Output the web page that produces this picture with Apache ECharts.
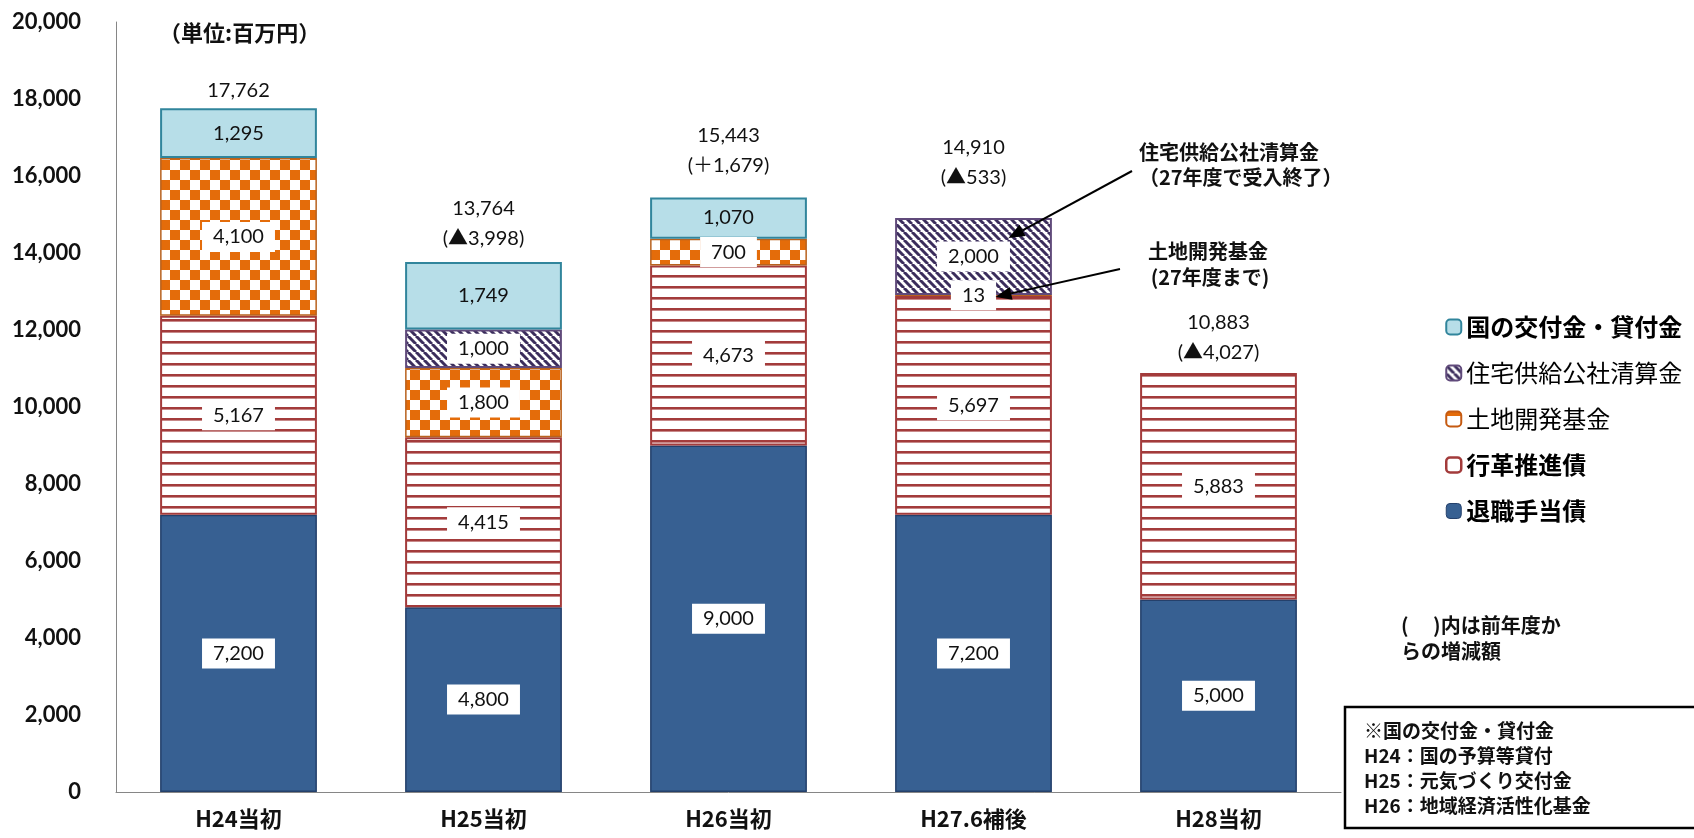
<!DOCTYPE html>
<html>
<head>
<meta charset="utf-8">
<script src="https://cdn.jsdelivr.net/npm/echarts@6/dist/echarts.min.js"></script>
<style>
  html, body { margin: 0; padding: 0; background: #fff; }
  #main { width: 1694px; height: 838px; }
</style>
</head>
<body>
<div id="main"></div>
<script>
// ---- data (単位：百万円) ----
const categories    = ['H24当初', 'H25当初', 'H26当初', 'H27.6補後', 'H28当初'];
const retirement    = [7200, 4800, 9000, 7200, 5000];   // 退職手当債
const reform        = [5167, 4415, 4673, 5697, 5883];   // 行革推進債
const landFund      = [4100, 1800, 700, 13, 0];         // 土地開発基金
const housing       = [0, 1000, 0, 2000, 0];            // 住宅供給公社清算金
const nationalGrant = [1295, 1749, 1070, 0, 0];         // 国の交付金・貸付金
const totals        = [17762, 13764, 15443, 14910, 10883];
const changes       = [null, '▲3,998', '＋1,679', '▲533', '▲4,027'];

const JP  = '"Noto Sans CJK JP", "Noto Sans", sans-serif';
const NUM = 'Lato, "Noto Sans CJK JP", sans-serif';

// ---- fill patterns ----
function makeTile(w, h, draw) {
  const c = document.createElement('canvas');
  c.width = w; c.height = h;
  const g = c.getContext('2d');
  draw(g, w, h);
  return c;
}
const stripeTile = makeTile(4, 11, (g, w, h) => {
  g.fillStyle = '#fff'; g.fillRect(0, 0, w, h);
  g.fillStyle = '#A33B3B'; g.fillRect(0, 0, w, 2);
  g.fillStyle = 'rgba(163,59,59,0.6)'; g.fillRect(0, 2, w, 1);
});
const checkerTile = makeTile(20, 20, (g, w, h) => {
  g.fillStyle = '#fff'; g.fillRect(0, 0, w, h);
  g.fillStyle = '#E46C0A';
  g.fillRect(0, 0, 10, 10);
  g.fillRect(10, 10, 10, 10);
});
const diagTile = makeTile(8, 8, (g, w, h) => {
  g.fillStyle = '#fff'; g.fillRect(0, 0, w, h);
  g.strokeStyle = '#3B2D5C'; g.lineWidth = 3;
  for (let x = -16; x <= 16; x += 8) {
    g.beginPath(); g.moveTo(x, 0); g.lineTo(x + 8, 8); g.stroke();
  }
});
const pattern = tile => ({ image: tile, repeat: 'repeat' });

const fmt = v => Number(v).toLocaleString('en-US');
const toData = arr => arr.map(v => (v === 0 ? '-' : v));

const boxedLabel = {
  show: true, position: 'inside', color: '#111', fontSize: 20, fontFamily: NUM,
  backgroundColor: '#fff', padding: [5, 11],
  formatter: p => fmt(p.value)
};

function barSeries(name, values, itemStyle, label) {
  return {
    name, type: 'bar', stack: 'total', barCategoryGap: '36%',
    data: toData(values), itemStyle, label: label || boxedLabel,
    emphasis: { disabled: true }
  };
}

// lift of the total label above each bar top (px)
const totalLift = [3, 9, 17, 25, 5];

const chart = echarts.init(document.getElementById('main'), null, { renderer: 'canvas' });

const option = {
  animation: false,
  backgroundColor: '#fff',
  grid: { left: 116, right: 353, top: 22, bottom: 46 },
  xAxis: {
    type: 'category', data: categories,
    axisLine: { lineStyle: { color: '#868686', width: 1 } },
    axisTick: { show: false },
    axisLabel: { color: '#111', fontSize: 22, fontWeight: 'bold', fontFamily: JP, margin: 16 }
  },
  yAxis: {
    type: 'value', min: 0, max: 20000, interval: 2000,
    splitLine: { show: false },
    axisLine: { show: true, lineStyle: { color: '#868686', width: 1 } },
    axisTick: { show: false },
    axisLabel: { color: '#111', fontSize: 22, fontWeight: 'bold', fontFamily: NUM, margin: 35,
                 formatter: v => fmt(v) }
  },
  legend: {
    orient: 'vertical', left: 1440, top: 310,
    itemWidth: 15, itemHeight: 15, itemGap: 22,
    selectedMode: false,
    textStyle: { fontSize: 24, color: '#000', fontFamily: JP },
    data: [
      { name: '国の交付金・貸付金', textStyle: { fontWeight: 'bold' },
        itemStyle: { color: '#B7DEE8', borderColor: '#31859C', borderWidth: 2 } },
      { name: '住宅供給公社清算金', textStyle: { fontWeight: 'normal' },
        itemStyle: { color: pattern(diagTile), borderColor: '#604A7B', borderWidth: 2 } },
      { name: '土地開発基金', textStyle: { fontWeight: 'normal' },
        itemStyle: {
          color: { type: 'linear', x: 0, y: 0, x2: 0, y2: 1, colorStops: [
            { offset: 0, color: '#E46C0A' }, { offset: 0.35, color: '#E46C0A' },
            { offset: 0.35, color: '#fff' }, { offset: 1, color: '#fff' } ] },
          borderColor: '#C55A11', borderWidth: 2 } },
      { name: '行革推進債', textStyle: { fontWeight: 'bold' },
        itemStyle: { color: '#fff', borderColor: '#A33B3B', borderWidth: 2.5 } },
      { name: '退職手当債', textStyle: { fontWeight: 'bold' },
        itemStyle: { color: '#376092', borderColor: '#24406B', borderWidth: 1 } }
    ]
  },
  series: [
    barSeries('退職手当債', retirement,
      { color: '#376092', borderColor: '#24406B', borderWidth: 1.5 }),
    barSeries('行革推進債', reform,
      { color: pattern(stripeTile), borderColor: '#A33B3B', borderWidth: 2 }),
    barSeries('土地開発基金', landFund,
      { color: pattern(checkerTile), borderColor: '#B8621E', borderWidth: 1.5 }),
    barSeries('住宅供給公社清算金', housing,
      { color: pattern(diagTile), borderColor: '#604A7B', borderWidth: 2 }),
    barSeries('国の交付金・貸付金', nationalGrant,
      { color: '#B7DEE8', borderColor: '#31859C', borderWidth: 2 },
      { show: true, position: 'inside', color: '#111', fontSize: 20, fontFamily: NUM,
        formatter: p => fmt(p.value) }),
    {
      // totals with the change from the previous year, above each stack
      name: '合計', type: 'custom', z: 5,
      encode: { x: 0, y: 1 },
      data: totals.map((v, i) => [i, v]),
      renderItem: (params, api) => {
        const i = params.dataIndex;
        const p = api.coord([api.value(0), api.value(1)]);
        const text = changes[i] ? fmt(totals[i]) + '\n(' + changes[i] + ')' : fmt(totals[i]);
        return {
          type: 'text', x: p[0], y: p[1] - totalLift[i],
          style: { text, textAlign: 'center', textVerticalAlign: 'bottom',
                   font: '20px ' + NUM, fill: '#111', lineHeight: 30 }
        };
      }
    }
  ]
};
chart.setOption(option);

// ---- annotations ----
const boldJP = size => 'bold ' + size + 'px ' + JP;
function arrow(from, to) {
  const dx = to[0] - from[0], dy = to[1] - from[1];
  const len = Math.hypot(dx, dy), ux = dx / len, uy = dy / len;
  const headL = 16, headW = 6.5;
  const bx = to[0] - ux * headL, by = to[1] - uy * headL;
  return [
    { type: 'line', shape: { x1: from[0], y1: from[1], x2: bx, y2: by },
      style: { stroke: '#000', lineWidth: 2 }, z: 20 },
    { type: 'polygon', shape: { points: [to, [bx - uy * headW, by + ux * headW], [bx + uy * headW, by - ux * headW]] },
      style: { fill: '#000' }, z: 20 }
  ];
}
const h27 = categories.indexOf('H27.6補後');
const tipHousing = chart.convertToPixel({ gridIndex: 0 }, [h27, 14390]);
const tipLand = chart.convertToPixel({ gridIndex: 0 }, [h27, 12860]);
tipHousing[0] += 35;
tipLand[0] += 22;

const texts = [
  { x: 159, y: 33, text: '（単位:百万円）', font: boldJP(22), align: 'left' },
  { x: 1139, y: 152, text: '住宅供給公社清算金', font: boldJP(20), align: 'left' },
  { x: 1139, y: 177, text: '（27年度で受入終了）', font: boldJP(20), align: 'left' },
  { x: 1208, y: 251, text: '土地開発基金', font: boldJP(20), align: 'center' },
  { x: 1210, y: 277, text: '(27年度まで)', font: boldJP(20), align: 'center' },
  { x: 1401, y: 625, text: '(　 )内は前年度か', font: boldJP(20), align: 'left' },
  { x: 1401, y: 651, text: 'らの増減額', font: boldJP(20), align: 'left' },
  { x: 1364, y: 731, text: '※国の交付金・貸付金', font: boldJP(19), align: 'left' },
  { x: 1364, y: 756, text: 'H24：国の予算等貸付', font: boldJP(19), align: 'left' },
  { x: 1364, y: 781, text: 'H25：元気づくり交付金', font: boldJP(19), align: 'left' },
  { x: 1364, y: 806, text: 'H26：地域経済活性化基金', font: boldJP(19), align: 'left' }
];

chart.setOption({
  graphic: [
    ...texts.map(t => ({
      type: 'text', z: 20,
      style: { x: t.x, y: t.y, text: t.text, font: t.font, fill: '#111',
               textAlign: t.align, textVerticalAlign: 'middle' }
    })),
    { type: 'rect', z: 20, shape: { x: 1345, y: 707, width: 400, height: 121 },
      style: { fill: 'none', stroke: '#000', lineWidth: 2.5 } },
    ...arrow([1132, 171], tipHousing),
    ...arrow([1120, 269], tipLand)
  ]
});
</script>
</body>
</html>
